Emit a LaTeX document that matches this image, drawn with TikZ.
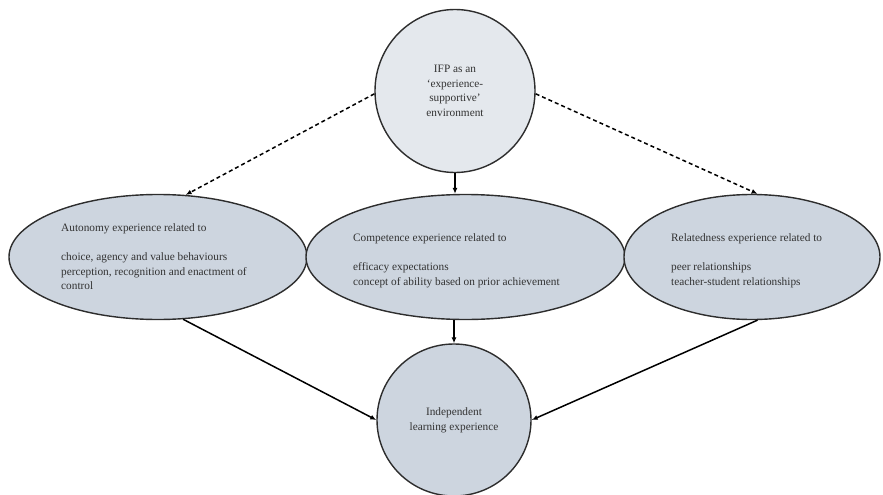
\documentclass[tikz,border=0pt]{standalone}
\usepackage{fontspec}
\setmainfont{Liberation Serif}
\usetikzlibrary{shapes.geometric,arrows.meta}
\definecolor{topfill}{RGB}{228,232,237}
\definecolor{ellfill}{RGB}{205,213,223}
\definecolor{edge}{RGB}{45,45,45}
\definecolor{txt}{RGB}{50,50,50}
\tikzset{
  bubble/.style={ellipse, draw=edge, line width=1.4pt, inner sep=0pt, text=txt,
     font=\fontsize{11.3}{14.7}\selectfont, align=center},
  btext/.style={anchor=north west, inner sep=0pt, align=left, text=txt,
     font=\fontsize{11.3}{14.7}\selectfont},
  link/.style={line width=1.5pt, draw=black, -{Latex[length=6pt,width=5pt]}},
  dlink/.style={link, dash pattern=on 4pt off 3pt}
}
\begin{document}
\begin{tikzpicture}[x=1pt,y=-1pt]
\useasboundingbox (0,0) rectangle (883,495);
\node[bubble, fill=topfill, minimum width=160pt, minimum height=163pt] (top) at (455,91)
  {IFP as an\\`experience-\\supportive'\\environment};
\node[bubble, fill=ellfill, minimum width=298pt, minimum height=125pt] (aut) at (158,257) {};
\node[bubble, fill=ellfill, minimum width=319pt, minimum height=125pt] (com) at (465.5,257) {};
\node[bubble, fill=ellfill, minimum width=256pt, minimum height=125pt] (rel) at (752,257) {};
\node[bubble, fill=ellfill, minimum width=154pt, minimum height=152pt] (ind) at (454,420)
  {Independent\\learning experience};
\node[btext] (autt) at (61,223) {Autonomy experience related to\\[14.7pt]choice, agency and value behaviours\\perception, recognition and enactment of\\control};
\node[btext] (comt) at (353,233) {Competence experience related to\\[14.7pt]efficacy expectations\\concept of ability based on prior achievement};
\node[btext] (relt) at (671,233) {Relatedness experience related to\\[14.7pt]peer relationships\\teacher-student relationships};
\draw[dlink] (top.182) -- (aut.66);
\draw[dlink] (top.358) -- (rel.85);
\draw[link] (top.south) -- (top.south |- com.north);
\draw[link] (aut.292) -- (ind.west);
\draw[link] (ind.north |- com.south) -- (ind.north);
\draw[link] (rel.275) -- (ind.east);
\end{tikzpicture}
\end{document}
